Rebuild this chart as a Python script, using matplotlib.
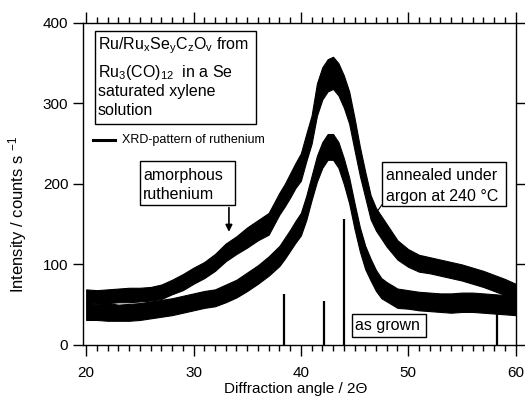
import matplotlib
matplotlib.use("Agg")
import matplotlib.pyplot as plt
from matplotlib.patches import Rectangle
from matplotlib.ticker import MultipleLocator

plt.rcParams['font.family'] = ['Liberation Sans', 'DejaVu Sans']
plt.rcParams['mathtext.fontset'] = 'custom'
plt.rcParams['mathtext.rm'] = 'Liberation Sans'
plt.rcParams['mathtext.it'] = 'Liberation Sans'
plt.rcParams['mathtext.default'] = 'regular'

# diffraction angle (2 theta) of the sampled points
angle = [20, 21, 22, 23, 24, 25, 26, 27, 28, 29, 30, 31, 32, 33, 34, 35, 36, 37, 38,
         38.5, 39, 39.5, 40, 40.5, 41, 41.5, 42, 42.5, 43, 43.5, 44, 44.5, 45, 45.5,
         46, 46.5, 47, 47.5, 48, 49, 50, 51, 52, 53, 54, 55, 56, 57, 58, 59, 60]

# annealed under argon at 240 C: upper / lower edge of the noisy trace (counts/s)
annealed_hi = [69, 68, 69, 70, 71, 71, 72, 75, 81, 88, 96, 103, 113, 126, 135, 146, 155, 164, 189,
               200, 213, 226, 238, 262, 285, 325, 345, 355, 358, 350, 335, 315, 282, 246,
               215, 186, 170, 160, 150, 130, 119, 112, 109, 106, 103, 100, 96, 92, 87, 82, 76]
annealed_lo = [51, 52, 52, 53, 53, 54, 55, 57, 63, 68, 76, 83, 92, 104, 113, 121, 130, 137, 162,
               172, 183, 195, 204, 228, 250, 285, 305, 315, 318, 310, 295, 275, 242, 210,
               183, 156, 142, 132, 122, 106, 97, 91, 89, 86, 83, 80, 76, 72, 67, 62, 57]

# as grown
grown_hi = [52, 51, 52, 50, 51, 52, 54, 56, 58, 61, 64, 67, 69, 75, 81, 90, 99, 110, 123,
            133, 143, 154, 164, 185, 210, 235, 252, 262, 262, 252, 232, 208, 176, 146,
            123, 107, 93, 83, 78, 70, 68, 66, 65, 64, 64, 65, 65, 64, 63, 62, 60]
grown_lo = [31, 31, 30, 30, 30, 31, 33, 35, 37, 40, 43, 46, 48, 53, 59, 67, 76, 86, 98,
            107, 117, 127, 136, 155, 180, 203, 220, 230, 230, 220, 200, 176, 144, 116,
            94, 80, 67, 58, 54, 46, 45, 43, 42, 41, 40, 41, 41, 40, 39, 38, 37]

# reference XRD pattern of hcp ruthenium
ru_angle = [38.4, 42.15, 44.0, 58.3]
ru_height = [63, 55, 157, 39]

fig = plt.figure(figsize=(5.25, 3.96), dpi=100)
ax = fig.add_axes([0.158, 0.129, 0.825, 0.813])

ax.fill_between(angle, annealed_lo, annealed_hi, color='black', lw=0.8)
ax.fill_between(angle, grown_lo, grown_hi, color='black', lw=0.8)
ax.vlines(ru_angle, 0, ru_height, color='black', lw=1.6)

ax.set_xlim(19.7, 60.05)
ax.set_ylim(0, 400)
ax.xaxis.set_major_locator(MultipleLocator(10))
ax.xaxis.set_minor_locator(MultipleLocator(1))
ax.yaxis.set_major_locator(MultipleLocator(100))
ax.tick_params(axis='x', which='both', direction='out', top=True, labelsize=11, width=1)
ax.tick_params(axis='x', which='major', length=8, pad=7)
ax.tick_params(axis='x', which='minor', length=4)
ax.tick_params(axis='y', which='major', direction='out', right=True, length=7,
               width=1, labelsize=11)
for sp in ax.spines.values():
    sp.set_linewidth(1.0)

fig.text(296 / 525, 1 - 389 / 396, 'Diffraction angle / 2\u0398', ha='center',
         va='center', fontsize=11)
fig.text(18 / 525, 1 - 214 / 396, 'Intensity / counts s $^{-1}$', ha='center',
         va='center', rotation=90, fontsize=12)


def boxed(x0, x1, y0, y1):
    ax.add_patch(Rectangle((x0, y0), x1 - x0, y1 - y0, fc='white', ec='black',
                           lw=1.0, zorder=3))


# sample description
boxed(20.84, 35.85, 275, 390)
desc = ['Ru/Ru$_x$Se$_y$C$_z$O$_v$ from', 'Ru$_3$(CO)$_{12}$  in a Se',
        'saturated xylene', 'solution']
for line, yy in zip(desc, [372, 338, 315, 291]):
    ax.text(21.1, yy, line, va='center', ha='left', fontsize=11.5, zorder=4)

ax.plot([20.65, 22.7], [254, 254], color='black', lw=2.2)
ax.text(23.35, 254, 'XRD-pattern of ruthenium', va='center', ha='left', fontsize=9)

boxed(25.03, 33.9, 174, 229)
ax.text(25.3, 211, 'amorphous', va='center', ha='left', fontsize=11.5, zorder=4)
ax.text(25.3, 187, 'ruthenium', va='center', ha='left', fontsize=11.5, zorder=4)
ax.annotate('', xy=(33.3, 137), xytext=(33.3, 174),
            arrowprops=dict(arrowstyle='-|>', color='black', lw=1.2, mutation_scale=10))

boxed(47.6, 59.1, 172.5, 227.5)
ax.text(47.93, 210, 'annealed under', va='center', ha='left', fontsize=11.5, zorder=4)
ax.text(47.93, 185, 'argon at 240 \u00b0C', va='center', ha='left', fontsize=11.5,
        zorder=4)
ax.plot([47.55, 46.9], [174, 162], color='black', lw=0.8)

boxed(44.8, 51.7, 10, 38)
ax.text(45.07, 24, 'as grown', va='center', ha='left', fontsize=11.5, zorder=4)

fig.savefig('out.png', dpi=100)
